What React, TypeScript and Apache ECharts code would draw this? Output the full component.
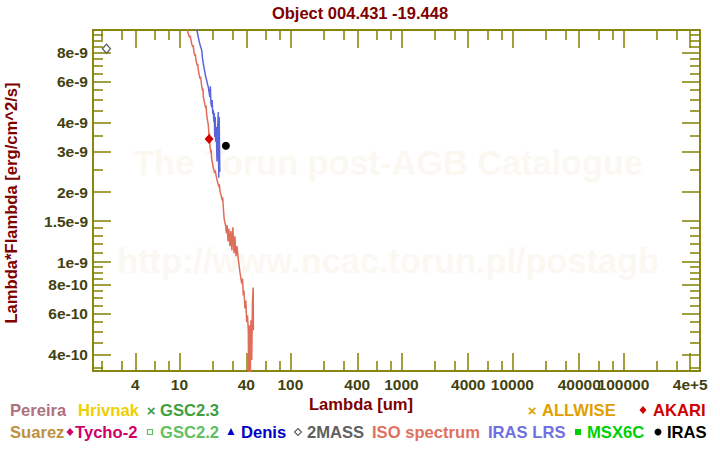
import React, { useEffect, useRef } from 'react';
import * as echarts from 'echarts';

const TITLE = 'Object 004.431 -19.448';
const X_NAME = 'Lambda [um]';
const Y_NAME = 'Lambda*Flambda [erg/cm^2/s]';
const WATERMARK_1 = 'The Torun post-AGB Catalogue';
const WATERMARK_2 = 'http://www.ncac.torun.pl/postagb';

const X_RANGE = [1.664, 4.9e5];
const Y_RANGE = [3.39e-10, 1.0e-8];

const X_LABEL_VALUES = [4, 10, 40, 100, 400, 1000, 4000, 10000, 40000, 100000, 400000];
const X_LABEL_TEXTS = ['4', '10', '40', '100', '400', '1000', '4000', '10000', '40000', '100000', '4e+5'];
const X_MINOR_TICKS = [2, 3, 6, 8, 20, 30, 60, 80, 200, 300, 600, 800, 2000, 3000, 6000, 8000,
  20000, 30000, 60000, 80000, 200000, 300000];

const Y_LABEL_VALUES = [4e-10, 6e-10, 8e-10, 1e-9, 1.5e-9, 2e-9, 3e-9, 4e-9, 6e-9, 8e-9];
const Y_LABEL_TEXTS = ['4e-10', '6e-10', '8e-10', '1e-9', '1.5e-9', '2e-9', '3e-9', '4e-9', '6e-9', '8e-9'];
const Y_MINOR_TICKS = [3.5e-10, 4.5e-10, 5e-10, 5.5e-10, 6.5e-10, 7e-10, 7.5e-10, 8.5e-10, 9e-10, 9.5e-10,
  1.1e-9, 1.2e-9, 1.3e-9, 1.4e-9, 2.5e-9, 3.5e-9, 4.5e-9, 5e-9, 5.5e-9, 6.5e-9, 7e-9, 7.5e-9,
  8.5e-9, 9e-9, 9.5e-9];

// ISO spectrum (wavelength in um, lambda*F_lambda)
const ISO_WAVELENGTH = [11.4, 11.9, 12.3, 12.5, 12.9, 13.2, 13.3, 13.5, 13.8, 13.9, 14.1, 14.5, 14.6,
  14.8, 15.3, 15.5, 15.9, 16.2, 16.3, 16.4, 17.0, 17.3, 17.4, 17.6, 18.0, 18.2, 18.5, 18.6, 18.8,
  19.2, 19.3, 19.5, 20.2, 20.8, 21.0, 21.6, 22.4, 22.8, 22.9, 23.2, 24.0, 24.4, 24.5, 24.8, 25.3,
  26.1, 26.5, 26.9, 27.4, 27.9, 28.5, 29.1, 29.7, 30.3, 31.0, 31.6, 32.3, 33.0, 33.9, 35.1, 36.4,
  37.0, 37.6, 38.1, 38.9, 39.7, 40.3, 41.0, 41.7, 42.1, 42.7, 43.4, 44.1, 44.8, 45.5, 46.2, 46.4];
const ISO_FLUX = [1.13e-8, 9.77e-9, 9.3e-9, 9.45e-9, 8.71e-9, 8.45e-9, 8.6e-9, 8.02e-9, 7.75e-9,
  7.9e-9, 7.39e-9, 7.0e-9, 7.15e-9, 6.70e-9, 6.17e-9, 6.3e-9, 5.68e-9, 5.45e-9, 5.6e-9, 5.15e-9,
  4.75e-9, 4.6e-9, 4.72e-9, 4.30e-9, 4.02e-9, 3.89e-9, 3.5e-9, 3.6e-9, 3.19e-9, 2.95e-9, 3.05e-9,
  2.80e-9, 2.54e-9, 2.42e-9, 2.48e-9, 2.30e-9, 2.15e-9, 2.10e-9, 2.16e-9, 2.02e-9, 1.89e-9, 1.84e-9,
  1.90e-9, 1.74e-9, 1.53e-9, 1.43e-9, 1.33e-9, 1.44e-9, 1.23e-9, 1.39e-9, 1.17e-9, 1.36e-9, 1.12e-9,
  1.41e-9, 1.09e-9, 1.29e-9, 1.06e-9, 1.17e-9, 1.03e-9, 9.02e-10, 8.07e-10, 8.48e-10, 7.17e-10,
  7.53e-10, 6.31e-10, 6.83e-10, 5.51e-10, 5.89e-10, 5.08e-10, 3.10e-10, 5.34e-10, 3.0e-10, 5.61e-10,
  3.78e-10, 6.83e-10, 7.76e-10, 5.08e-10];

// IRAS LRS spectrum
const LRS_WAVELENGTH = [13.8, 14.5, 15.0, 15.5, 15.9, 16.1, 16.4, 16.7, 17.0, 17.3, 17.6, 17.9, 18.2,
  18.5, 18.8, 19.0, 19.2, 19.5, 19.7, 19.95, 20.2, 20.4, 20.6, 20.8, 21.0, 21.2, 21.45, 21.8, 22.0,
  22.4, 22.6, 22.8, 23.1];
const LRS_FLUX = [1.13e-8, 9.77e-9, 9.0e-9, 8.48e-9, 8.15e-9, 7.61e-9, 7.18e-9, 6.83e-9, 6.51e-9,
  6.25e-9, 6.07e-9, 5.84e-9, 5.67e-9, 5.40e-9, 5.14e-9, 5.72e-9, 4.89e-9, 4.65e-9, 4.99e-9, 4.35e-9,
  4.52e-9, 4.02e-9, 4.39e-9, 3.46e-9, 4.22e-9, 3.30e-9, 3.82e-9, 2.71e-9, 3.64e-9, 4.43e-9, 2.31e-9,
  4.22e-9, 2.45e-9];

// Photometry
const AKARI_WAVELENGTH = [18.5];
const AKARI_FLUX = [3.39e-9];
const IRAS_WAVELENGTH = [26.2];
const IRAS_FLUX = [3.17e-9];
const TWOMASS_WAVELENGTH = [2.2];
const TWOMASS_FLUX = [8.3e-9];

const LEGEND_ROW1 = [
  { label: 'Pereira', color: '#b0707f', symbol: '' },
  { label: 'Hrivnak', color: '#ecd000', symbol: '' },
  { label: 'GSC2.3', color: '#40a040', symbol: 'cross' },
  { label: 'ALLWISE', color: '#e0a000', symbol: 'cross' },
  { label: 'AKARI', color: '#d00000', symbol: 'diamond' },
];
const LEGEND_ROW2 = [
  { label: 'Suarez', color: '#c09040', symbol: '' },
  { label: 'Tycho-2', color: '#d0006a', symbol: 'diamond' },
  { label: 'GSC2.2', color: '#60c060', symbol: 'emptySquare' },
  { label: 'Denis', color: '#0000c8', symbol: 'triangle' },
  { label: '2MASS', color: '#606060', symbol: 'emptyDiamond' },
  { label: 'ISO spectrum', color: '#e07060', symbol: '' },
  { label: 'IRAS LRS', color: '#7070e0', symbol: '' },
  { label: 'MSX6C', color: '#00d000', symbol: 'square' },
  { label: 'IRAS', color: '#000000', symbol: 'circle' },
];
// layout: text x, symbol center x
const ROW1_POS = [[10, 0], [78, 0], [160, 151], [542, 532], [653, 643]];
const ROW2_POS = [[10, 0], [75, 70], [160, 150], [241, 231], [307, 298], [372, 0], [488, 0], [587, 578], [667, 658]];

const FONT = '"Liberation Sans", Arial, Helvetica, sans-serif';
const AXIS_COLOR = '#808000';
const LABEL_COLOR = '#424210';
const MAROON = '#800000';
const WATERMARK_COLOR = '#fbf8f2';

const lg = (v: number) => Math.log10(v);

function symbolGraphic(kind: string, cx: number, cy: number, color: string) {
  const r = 3.5;
  switch (kind) {
    case 'cross':
      return { type: 'text', x: cx, y: cy, style: { text: '×', fill: color, font: `bold 15px ${FONT}`, align: 'center', verticalAlign: 'middle', textAlign: 'center', textVerticalAlign: 'middle' } };
    case 'diamond':
      return { type: 'polygon', shape: { points: [[cx, cy - r - 0.5], [cx + r, cy], [cx, cy + r + 0.5], [cx - r, cy]] }, style: { fill: color } };
    case 'emptyDiamond':
      return { type: 'polygon', shape: { points: [[cx, cy - r], [cx + r, cy], [cx, cy + r], [cx - r, cy]] }, style: { fill: '#fff', stroke: color, lineWidth: 1.2 } };
    case 'emptySquare':
      return { type: 'rect', shape: { x: cx - 2.5, y: cy - 2.5, width: 5, height: 5 }, style: { fill: '#fff', stroke: color, lineWidth: 1.2 } };
    case 'square':
      return { type: 'rect', shape: { x: cx - 3, y: cy - 3, width: 6, height: 6 }, style: { fill: color } };
    case 'triangle':
      return { type: 'polygon', shape: { points: [[cx, cy - 4], [cx + 3.5, cy + 3], [cx - 3.5, cy + 3]] }, style: { fill: color } };
    case 'circle':
      return { type: 'circle', shape: { cx, cy, r: 3.5 }, style: { fill: color } };
    default:
      return null;
  }
}

function legendGraphics() {
  const out: any[] = [];
  const rows: [typeof LEGEND_ROW1, number[][], number][] = [
    [LEGEND_ROW1, ROW1_POS, 410],
    [LEGEND_ROW2, ROW2_POS, 432],
  ];
  rows.forEach(([items, pos, y]) => {
    items.forEach((it, i) => {
      const [tx, sx] = pos[i];
      out.push({
        type: 'text', x: tx, y,
        style: { text: it.label, fill: it.color, font: `bold 16.6px ${FONT}`, align: 'left', verticalAlign: 'middle', textAlign: 'left', textVerticalAlign: 'middle' },
      });
      if (it.symbol) {
        const g = symbolGraphic(it.symbol, sx, y, it.color);
        if (g) out.push(g);
      }
    });
  });
  return out;
}

function makeXAxis(position: 'bottom' | 'top', major: boolean) {
  return {
    type: 'value', position, gridIndex: 0,
    min: lg(X_RANGE[0]), max: lg(X_RANGE[1]),
    axisLine: { show: true, onZero: false, lineStyle: { color: AXIS_COLOR, width: 1.5 } },
    axisTick: {
      show: true, inside: true, length: major ? 18 : 10,
      customValues: (major ? X_LABEL_VALUES : X_MINOR_TICKS).map(lg),
      lineStyle: { color: AXIS_COLOR, width: 1.5 },
    },
    axisLabel: {
      show: major && position === 'bottom',
      customValues: X_LABEL_VALUES.map(lg),
      formatter: (v: number) => {
        const i = X_LABEL_VALUES.findIndex((t) => Math.abs(lg(t) - v) < 1e-6);
        return i >= 0 ? X_LABEL_TEXTS[i] : '';
      },
      color: LABEL_COLOR, fontWeight: 'bold', fontSize: 15.5, fontFamily: FONT, margin: 5,
    },
    splitLine: { show: false },
  };
}

function makeYAxis(position: 'left' | 'right', major: boolean) {
  return {
    type: 'value', position, gridIndex: 0,
    min: lg(Y_RANGE[0]), max: lg(Y_RANGE[1]),
    axisLine: { show: true, onZero: false, lineStyle: { color: AXIS_COLOR, width: 1.5 } },
    axisTick: {
      show: true, inside: true, length: major ? 18 : 10,
      customValues: (major ? Y_LABEL_VALUES : Y_MINOR_TICKS).map(lg),
      lineStyle: { color: AXIS_COLOR, width: 1.5 },
    },
    axisLabel: {
      show: major && position === 'left',
      customValues: Y_LABEL_VALUES.map(lg),
      formatter: (v: number) => {
        const i = Y_LABEL_VALUES.findIndex((t) => Math.abs(lg(t) - v) < 1e-6);
        return i >= 0 ? Y_LABEL_TEXTS[i] : '';
      },
      color: LABEL_COLOR, fontWeight: 'bold', fontSize: 15.5, fontFamily: FONT, margin: 5,
    },
    splitLine: { show: false },
  };
}

const toPairs = (xs: number[], ys: number[]) => xs.map((x, i) => [lg(x), lg(ys[i])]);

export default function App() {
  const ref = useRef<HTMLDivElement>(null);
  useEffect(() => {
    if (!ref.current) return;
    const chart = echarts.init(ref.current, undefined, { renderer: 'svg' });
    chart.setOption({
      animation: false,
      backgroundColor: '#ffffff',
      title: {
        text: TITLE, left: 'center', top: -1,
        textStyle: { color: MAROON, fontSize: 16.5, fontWeight: 'bold', fontFamily: FONT },
      },
      grid: { left: 93, right: 20, top: 30, bottom: 79, containLabel: false },
      xAxis: [makeXAxis('bottom', true), makeXAxis('bottom', false), makeXAxis('top', true), makeXAxis('top', false)],
      yAxis: [makeYAxis('left', true), makeYAxis('left', false), makeYAxis('right', true), makeYAxis('right', false)],
      graphic: [
        { type: 'text', x: 388, y: 163, z: 0, silent: true, style: { text: WATERMARK_1, fill: WATERMARK_COLOR, font: `bold 34.3px ${FONT}`, align: 'center', verticalAlign: 'middle', textAlign: 'center', textVerticalAlign: 'middle' } },
        { type: 'text', x: 388, y: 261, z: 0, silent: true, style: { text: WATERMARK_2, fill: WATERMARK_COLOR, font: `bold 34.3px ${FONT}`, align: 'center', verticalAlign: 'middle', textAlign: 'center', textVerticalAlign: 'middle' } },
        { type: 'text', x: 361, y: 404, style: { text: X_NAME, fill: MAROON, font: `bold 16.6px ${FONT}`, align: 'center', verticalAlign: 'middle', textAlign: 'center', textVerticalAlign: 'middle' } },
        { type: 'text', x: 11, y: 203, rotation: Math.PI / 2, style: { text: Y_NAME, fill: MAROON, font: `bold 16.6px ${FONT}`, align: 'center', verticalAlign: 'middle', textAlign: 'center', textVerticalAlign: 'middle' } },
        ...legendGraphics(),
      ],
      series: [
        {
          name: 'ISO spectrum', type: 'line', xAxisIndex: 0, yAxisIndex: 0,
          data: toPairs(ISO_WAVELENGTH, ISO_FLUX), symbol: 'none', clip: true,
          lineStyle: { color: '#e06c5a', width: 1.5 }, z: 3,
        },
        {
          name: 'IRAS LRS', type: 'line', xAxisIndex: 0, yAxisIndex: 0,
          data: toPairs(LRS_WAVELENGTH, LRS_FLUX), symbol: 'none', clip: true,
          lineStyle: { color: '#5a64dc', width: 1.5 }, z: 4,
        },
        {
          name: '2MASS', type: 'scatter', xAxisIndex: 0, yAxisIndex: 0,
          data: toPairs(TWOMASS_WAVELENGTH, TWOMASS_FLUX), symbol: 'diamond', symbolSize: [8, 9],
          itemStyle: { color: '#ffffff', borderColor: '#606060', borderWidth: 1.3, opacity: 1 }, z: 5,
        },
        {
          name: 'AKARI', type: 'scatter', xAxisIndex: 0, yAxisIndex: 0,
          data: toPairs(AKARI_WAVELENGTH, AKARI_FLUX), symbol: 'diamond', symbolSize: [9, 10],
          itemStyle: { color: '#d00000', opacity: 1 }, z: 5,
        },
        {
          name: 'IRAS', type: 'scatter', xAxisIndex: 0, yAxisIndex: 0,
          data: toPairs(IRAS_WAVELENGTH, IRAS_FLUX), symbol: 'circle', symbolSize: 8,
          itemStyle: { color: '#000000', opacity: 1 }, z: 5,
        },
      ],
    });
    return () => chart.dispose();
  }, []);
  return (
    <div
      ref={ref}
      style={{ position: 'absolute', left: 0, top: 0, width: 720, height: 450, background: '#fff' }}
    />
  );
}
